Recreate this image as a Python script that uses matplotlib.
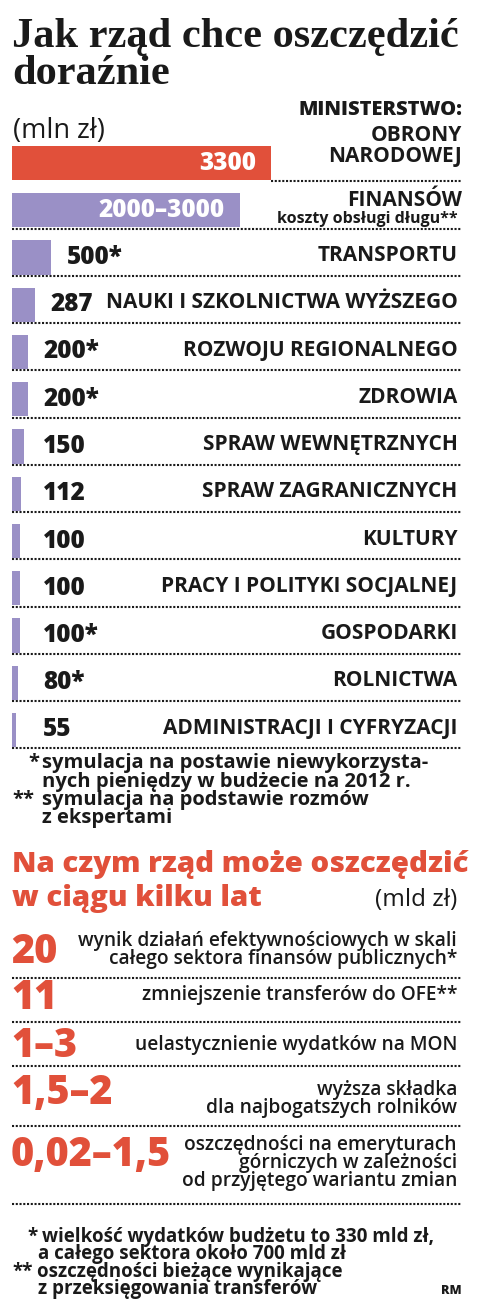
import matplotlib
matplotlib.use('Agg')
import matplotlib.pyplot as plt
import numpy as np

# Oszczednosci dorazne wg ministerstw (mln zl)
ministries = ['OBRONY\nNARODOWEJ', 'FINANSÓW', 'TRANSPORTU',
              'NAUKI I SZKOLNICTWA WYŻSZEGO', 'ROZWOJU REGIONALNEGO', 'ZDROWIA',
              'SPRAW WEWNĘTRZNYCH', 'SPRAW ZAGRANICZNYCH', 'KULTURY',
              'PRACY I POLITYKI SOCJALNEJ', 'GOSPODARKI', 'ROLNICTWA',
              'ADMINISTRACJI I CYFRYZACJI']
values = [3300, 2900, 500, 287, 200, 200, 150, 112, 100, 100, 100, 80, 55]
value_labels = ['3300', '2000–3000', '500*', '287', '200*', '200*', '150',
                '112', '100', '100', '100*', '80*', '55']
finanse_note = 'koszty obsługi długu**'

# Oszczednosci w ciagu kilku lat (mld zl)
amounts = ['20', '11', '1–3', '1,5–2', '0,02–1,5']
descriptions = [['wynik działań efektywnościowych w skali',
                 'całego sektora finansów publicznych*'],
                ['zmniejszenie transferów do OFE**'],
                ['uelastycznienie wydatków na MON'],
                ['wyższa składka', 'dla najbogatszych rolników'],
                ['oszczędności na emeryturach', 'górniczych w zależności',
                 'od przyjętego wariantu zmian']]

RED = '#E1503A'
PURPLE = '#9A90C6'
INK = '#1a1a1a'
SANS = 'Open Sans'
DOTS = (0, (1, 0.8))

W, H = 480, 1300
fig = plt.figure(figsize=(W / 100, H / 100), dpi=100)

# canvas in pixel coordinates for the text layout
ax0 = fig.add_axes([0, 0, 1, 1])
ax0.set_xlim(0, W)
ax0.set_ylim(H, 0)
ax0.axis('off')


def txt(x, y, s, size, weight='normal', color=INK, ha='left', family=SANS):
    ax0.text(x, y, s, fontsize=size, fontweight=weight, color=color,
             ha=ha, va='baseline', family=family)


# title
txt(12, 47, 'Jak rząd chce oszczędzić', 30.5, 'bold', family='Liberation Serif')
txt(12, 84, 'doraźnie', 30.5, 'bold', family='Liberation Serif')
txt(462, 115, 'MINISTERSTWO:', 14.5, 'heavy', ha='right')
txt(13, 138, '(mln zł)', 19.5)

# bar chart; the axes runs down to the end of part 2 so that the
# dotted separators below can share it
n = len(values)
pitch = 47.25
top = 163 - pitch / 2
bottom = 1215
left, right = 12, 462
xmax = 3300 * (right - left) / 259.0
ax = fig.add_axes([left / W, 1 - bottom / H,
                   (right - left) / W, (bottom - top) / H])
ax.set_xlim(0, xmax)
ax.set_ylim(-0.5 + (bottom - top) / pitch, -0.5)
ax.set_axis_off()

y = np.arange(n)
colors = [RED] + [PURPLE] * (n - 1)
ax.barh(y, values, height=0.72, left=0, color=colors, zorder=3)

# separators: under each bar, then between the rows of part 2
seps_px = np.array([978, 1022, 1066, 1126, 1204])
sep_rows = np.concatenate([y + 0.39, (seps_px - 163) / pitch])
starts = [values[0]] + [0] * (len(sep_rows) - 1)
ax.hlines(sep_rows, starts, xmax, color=INK, lw=1.5, linestyles=DOTS, zorder=2)

px = (right - left) / xmax  # pixels per mln zl
yt = ax.get_yaxis_transform()
for i in range(n):
    if i < 2:
        ax.annotate(value_labels[i], (values[i], i), xytext=(-11, 0),
                    textcoords='offset points', ha='right', va='center',
                    color='white', fontsize=17.5, fontweight='heavy',
                    family=SANS, zorder=4)
    else:
        lx = max(values[i] + 16 / px, 31 / px)
        ax.text(lx, i, value_labels[i], ha='left', va='center', color=INK,
                fontsize=17.5, fontweight='heavy', family=SANS)
    if i == 0:
        ax.text(1.0, i - 0.36, ministries[i], transform=yt,
                ha='right', va='center', fontsize=15, fontweight='bold',
                family=SANS, color=INK, linespacing=1.05)
    elif i == 1:
        ax.text(1.0, i - 0.2, ministries[i], transform=yt,
                ha='right', va='center', fontsize=15, fontweight='bold',
                family=SANS, color=INK)
        ax.text(0.99, i + 0.18, finanse_note, transform=yt,
                ha='right', va='center', fontsize=11.5, fontweight='bold',
                family=SANS, color=INK)
    else:
        ax.text(0.99, i - 0.04, ministries[i], transform=yt,
                ha='right', va='center', fontsize=15, fontweight='bold',
                family=SANS, color=INK)

# footnotes, part 1
txt(39, 768, '*', 14.5, 'bold', ha='right')
txt(42, 768, 'symulacja na postawie niewykorzysta-', 14.5, 'bold')
txt(42, 786.5, 'nych pieniędzy w budżecie na 2012 r.', 14.5, 'bold')
txt(12, 805, '**', 14.5, 'bold')
txt(42, 805, 'symulacja na podstawie rozmów', 14.5, 'bold')
txt(42, 823.5, 'z ekspertami', 14.5, 'bold')

# part 2
txt(12, 872, 'Na czym rząd może oszczędzić', 21.2, 'heavy', color=RED)
txt(12, 906, 'w ciągu kilku lat', 21.2, 'heavy', color=RED)
txt(457, 906, '(mld zł)', 17.5, ha='right')

num_base = [963, 1009, 1057, 1104, 1166]
desc_first = [946, 1000, 1050, 1095, 1150]
for k in range(len(amounts)):
    txt(11, num_base[k], amounts[k], 28.5, 'heavy', color=RED)
    for j, line in enumerate(descriptions[k]):
        txt(457, desc_first[k] + 18 * j, line, 13.8, 'semibold', ha='right')

# footnotes, part 2
txt(38, 1242, '*', 13.5, 'bold', ha='right')
txt(42, 1242, 'wielkość wydatków budżetu to 330 mld zł,', 13.5, 'bold')
txt(38, 1259.5, 'a całego sektora około 700 mld zł', 13.5, 'bold')
txt(12, 1277, '**', 13.5, 'bold')
txt(37, 1277, 'oszczędności bieżące wynikające', 13.5, 'bold')
txt(38, 1294, 'z przeksięgowania transferów', 13.5, 'bold')
txt(462, 1294, 'RM', 9, 'heavy', ha='right')

fig.savefig('out.png', dpi=100, facecolor='white')
